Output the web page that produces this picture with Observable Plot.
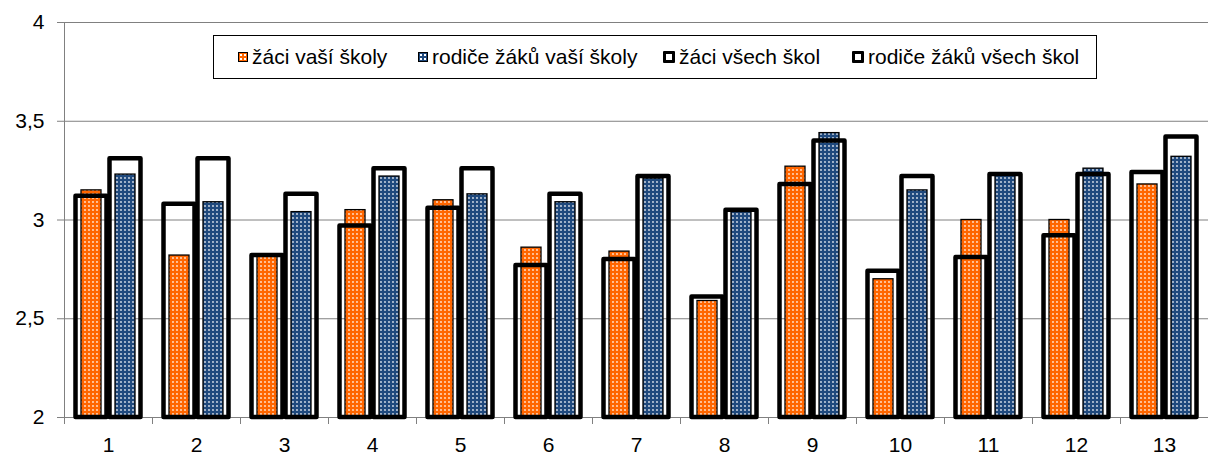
<!DOCTYPE html>
<html>
<head>
<meta charset="utf-8">
<script src="https://cdn.jsdelivr.net/npm/d3@7"></script>
<script src="https://cdn.jsdelivr.net/npm/@observablehq/plot@0.6"></script>
<style>
  html, body { margin: 0; padding: 0; background: #fff; }
  #wrap { position: relative; width: 1210px; height: 455px; font-family: "Liberation Sans", Arial, sans-serif; }
  #legend {
    position: absolute; left: 213px; top: 35px; width: 858px; height: 42px;
    border: 1px solid #000; background: #fff;
    display: flex; align-items: center; padding-left: 24px; box-sizing: content-box;
    font-size: 21px; color: #000; white-space: nowrap;
  }
  .item { display: flex; align-items: center; }
  .sw { box-sizing: border-box; margin-right: 4px; }
  .sw.fillOrange { width: 10px; height: 10px; border: 1px solid #000; background-color: #ff6600;
    background-image: radial-gradient(circle, #fff 0.9px, transparent 1.1px); background-size: 4px 4px; }
  .sw.fillBlue { width: 10px; height: 10px; border: 1px solid #000; background-color: #1f497d;
    background-image: radial-gradient(circle, #fff 0.9px, transparent 1.1px); background-size: 4px 4px; }
  .sw.outline { width: 12px; height: 12px; border: 3px solid #000; background: #fff; border-radius: 1px; }
</style>
</head>
<body>
<div id="wrap"></div>
<script>
// ---- data ----
const categories = ["1","2","3","4","5","6","7","8","9","10","11","12","13"];
const seriesNames = ["žáci vaší školy", "rodiče žáků vaší školy", "žáci všech škol", "rodiče žáků všech škol"];
const zaciVasi    = [3.15, 2.82, 2.82, 3.05, 3.10, 2.86, 2.84, 2.59, 3.27, 2.70, 3.00, 3.00, 3.18];
const rodiceVasi  = [3.23, 3.09, 3.04, 3.22, 3.13, 3.09, 3.21, 3.04, 3.44, 3.15, 3.23, 3.26, 3.32];
const zaciVsech   = [3.12, 3.08, 2.82, 2.97, 3.06, 2.77, 2.80, 2.61, 3.18, 2.74, 2.81, 2.92, 3.24];
const rodiceVsech = [3.31, 3.31, 3.13, 3.26, 3.26, 3.13, 3.22, 3.05, 3.40, 3.22, 3.23, 3.23, 3.42];
const yTicks = [2, 2.5, 3, 3.5, 4];
const yBase = 2;

// legend layout (item widths in px, styling only)
const legendItemWidths = [180, 245, 189, null];

// ---- table ----
const colored = [], outlined = [];
categories.forEach((c, i) => {
  colored.push({cat: c, pos: "a", value: zaciVasi[i], s: 0});
  colored.push({cat: c, pos: "b", value: rodiceVasi[i], s: 1});
  outlined.push({cat: c, pos: "a", value: zaciVsech[i], s: 2});
  outlined.push({cat: c, pos: "b", value: rodiceVsech[i], s: 3});
});

const W = 1210, H = 455, mt = 22, mb = 38, ml = 61, mr = 0;
const fmt = d => String(d).replace(".", ",");

const svg = Plot.plot({
  width: W, height: H,
  marginTop: mt, marginBottom: mb, marginLeft: ml, marginRight: mr,
  style: {fontFamily: "'Liberation Sans', Arial, sans-serif", fontSize: "21px", color: "#000", background: "#fff"},
  fx: {domain: categories, paddingInner: 0, paddingOuter: 0},
  x: {domain: ["a", "b"], paddingInner: 0, paddingOuter: 0.27, axis: null},
  y: {domain: [yTicks[0], yTicks[yTicks.length - 1]], ticks: yTicks},
  marks: [
    Plot.gridY(yTicks, {stroke: "#808080", strokeOpacity: 1, strokeWidth: 1}),
    Plot.frame({anchor: "left", facetAnchor: "left", stroke: "#808080"}),
    Plot.frame({anchor: "left", stroke: "#808080", insetTop: H - mt - mb, insetBottom: -6}),
    Plot.barY(colored, {
      fx: "cat", x: "pos", y1: () => yBase, y2: "value",
      fill: d => d.s === 0 ? "url(#dotsOrange)" : "url(#dotsBlue)",
      stroke: "#000", strokeWidth: 1.3, insetLeft: 7, insetRight: 7
    }),
    Plot.barY(outlined, {
      fx: "cat", x: "pos", y1: () => yBase, y2: "value",
      fill: "none", stroke: "#000", strokeWidth: 4.5, strokeLinejoin: "round",
      insetLeft: 1.5, insetRight: 1.5
    }),
    Plot.axisY(yTicks, {tickSize: 7, tickPadding: 13, stroke: "#808080", tickFormat: fmt, fontSize: 21, label: null}),
    Plot.axisFx({anchor: "bottom", tickSize: 0, tickPadding: 20, fontSize: 21, label: null})
  ]
});

// dotted fill patterns
const defs = d3.select(svg).insert("defs", ":first-child");
function pattern(id, color) {
  const p = defs.append("pattern").attr("id", id).attr("width", 4).attr("height", 4)
    .attr("patternUnits", "userSpaceOnUse");
  p.append("rect").attr("width", 4).attr("height", 4).attr("fill", color);
  p.append("circle").attr("cx", 2).attr("cy", 2).attr("r", 0.9).attr("fill", "#fff").attr("fill-opacity", 0.85);
}
pattern("dotsOrange", "#ff6600");
pattern("dotsBlue", "#1f497d");

const wrap = document.getElementById("wrap");
wrap.appendChild(svg);

// legend
const swClass = ["fillOrange", "fillBlue", "outline", "outline"];
const legend = document.createElement("div");
legend.id = "legend";
seriesNames.forEach((name, i) => {
  const it = document.createElement("div");
  it.className = "item";
  if (legendItemWidths[i]) { it.style.width = legendItemWidths[i] + "px"; it.style.flex = "none"; }
  const sw = document.createElement("span");
  sw.className = "sw " + swClass[i];
  const tx = document.createElement("span");
  tx.textContent = name;
  it.appendChild(sw); it.appendChild(tx);
  legend.appendChild(it);
});
wrap.appendChild(legend);
</script>
</body>
</html>
